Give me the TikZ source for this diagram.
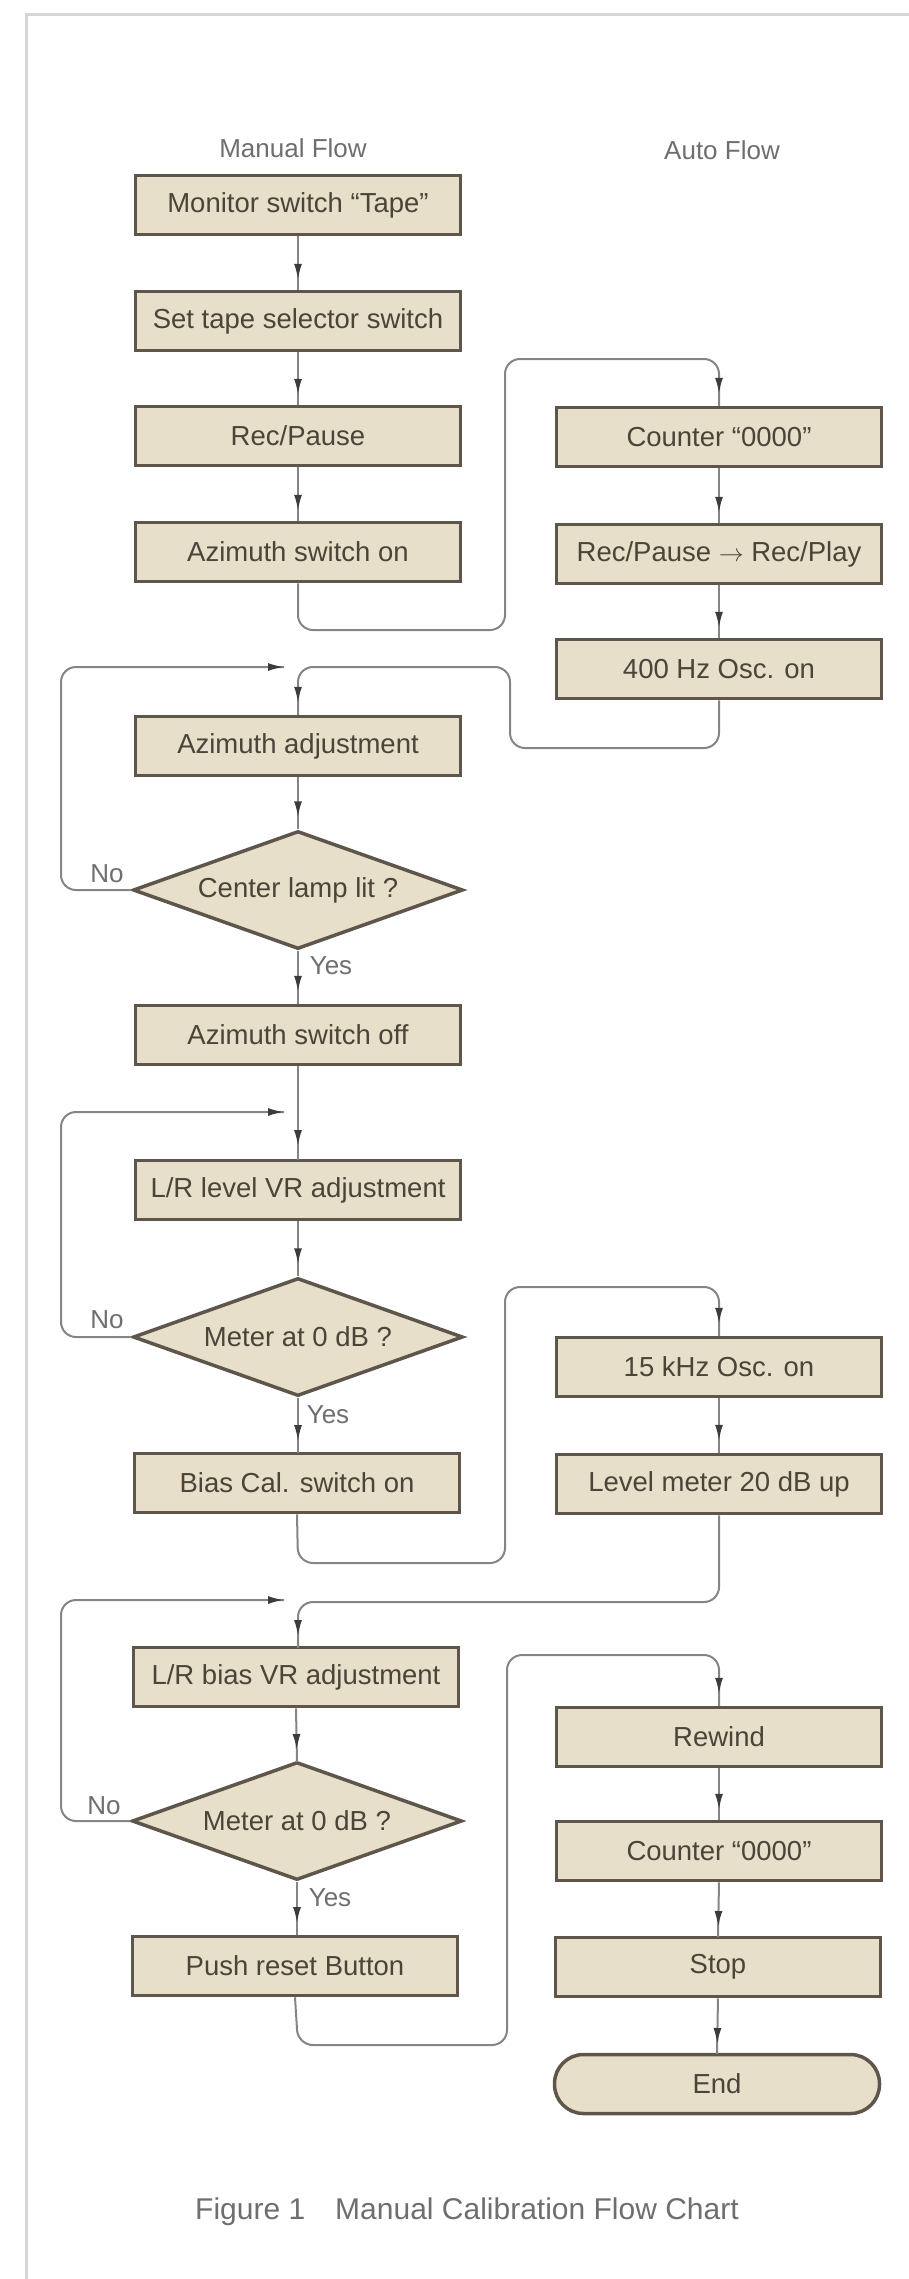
\documentclass[tikz,border=0pt]{standalone}
\usepackage{fontspec}
\setmainfont{Liberation Sans}
\usetikzlibrary{shapes.geometric,arrows.meta,decorations.markings}
\definecolor{boxfill}{HTML}{E8DFCA}
\definecolor{boxline}{HTML}{5E564B}
\definecolor{boxtext}{HTML}{4A4439}
\definecolor{wire}{HTML}{858585}
\definecolor{tipcol}{HTML}{3C3C3C}
\definecolor{labelgray}{HTML}{6E6E6E}
\definecolor{framecol}{HTML}{D6D6D6}
\tikzset{
  procbox/.style={draw=boxline, line width=3.5pt, fill=boxfill, text=boxtext,
    minimum width=325pt, minimum height=59pt, inner sep=0pt,
    font=\fontsize{27.5}{30}\selectfont},
  decbox/.style={diamond, draw=boxline, line width=3.5pt, fill=boxfill, text=boxtext,
    aspect=2.8, minimum width=330pt, minimum height=118pt, inner sep=0pt,
    font=\fontsize{27.5}{30}\selectfont},
  endbox/.style={procbox, rounded corners=29pt},
  wireline/.style={draw=wire, line width=2pt, rounded corners=15pt},
  tipat/.style={postaction={decorate, decoration={markings,
    mark=at position #1 with {\arrow[tipcol]{Latex[length=16pt,width=8pt]}}}}},
  lbl/.style={text=labelgray, font=\fontsize{26}{28}\selectfont, inner sep=0pt},
}
\begin{document}
\begin{tikzpicture}[x=1pt,y=-1pt]
\useasboundingbox (0,0) rectangle (909,2279);
\draw[framecol, line width=3pt] (909,14) -- (26,14) -- (26,2279);

% headings
\node[lbl] (hman) at (293,148) {Manual Flow};
\node[lbl] (hauto) at (722,150) {Auto Flow};

% manual column
\node[procbox] (monitor)  at (298,205)  {Monitor switch “Tape”};
\node[procbox] (settape)  at (298,321)  {Set tape selector switch};
\node[procbox] (recpause) at (298,436)  {Rec/Pause};
\node[procbox] (azon)     at (298,552)  {Azimuth switch on};
\node[procbox] (azadj)    at (298,746)  {Azimuth adjustment};
\node[decbox]  (dec1)     at (298,890)  {Center lamp lit ?};
\node[procbox] (azoff)    at (298,1035) {Azimuth switch off};
\node[procbox] (lrlevel)  at (298,1190) {L/R level VR adjustment};
\node[decbox]  (dec2)     at (298,1337) {Meter at 0 dB ?};
\node[procbox] (biascal)  at (297,1483) {Bias Cal. switch on};
\node[procbox] (lrbias)   at (296,1677) {L/R bias VR adjustment};
\node[decbox]  (dec3)     at (297,1821) {Meter at 0 dB ?};
\node[procbox] (pushreset) at (295,1966) {Push reset Button};

% auto column
\node[procbox] (counter1) at (719,437)  {Counter “0000”};
\node[procbox] (recplay)  at (719,554)  {Rec/Pause $\rightarrow$ Rec/Play};
\node[procbox] (osc400)   at (719,669)  {400 Hz Osc. on};
\node[procbox] (osc15k)   at (719,1367) {15 kHz Osc. on};
\node[procbox] (levelm)   at (719,1484) {Level meter 20 dB up};
\node[procbox] (rewind)   at (719,1737) {Rewind};
\node[procbox] (counter2) at (719,1851) {Counter “0000”};
\node[procbox] (stopbox)  at (718,1967) {Stop};
\node[endbox]  (endbox)   at (717,2084) {End};

% straight connectors
\draw[wireline, tipat=-10pt] (monitor) -- (settape);
\draw[wireline, tipat=-10pt] (settape) -- (recpause);
\draw[wireline, tipat=-10pt] (recpause) -- (azon);
\draw[wireline, tipat=-12pt] (azadj) -- (dec1);
\draw[wireline, tipat=-12pt] (dec1.south) -- (azoff.north);
\draw[wireline, tipat=-14pt] (azoff.south) -- (298,1160);
\draw[wireline, tipat=-12pt] (lrlevel) -- (dec2);
\draw[wireline, tipat=-12pt] (dec2.south) -- (298,1453);
\draw[wireline, tipat=-12pt] (lrbias.south) -- (297,1762);
\draw[wireline, tipat=-12pt] (dec3.south) -- (297,1935);
\draw[wireline, tipat=-10pt] (counter1) -- (recplay);
\draw[wireline, tipat=-10pt] (recplay) -- (osc400);
\draw[wireline, tipat=-12pt] (osc15k) -- (levelm);
\draw[wireline, tipat=-10pt] (rewind) -- (counter2);
\draw[wireline, tipat=-10pt] (counter2.south) -- (718,1937);
\draw[wireline, tipat=-10pt] (stopbox.south) -- (717,2054);

% cross-over connectors
\draw[wireline, tipat=-12pt] (azon.south) -- (298,630) -- (505,630) -- (505,359) -- (719,359) -- (counter1.north);
\draw[wireline, tipat=-12pt] (osc400.south) -- (719,748) -- (510,748) -- (510,667) -- (298,667) -- (azadj.north);
\draw[wireline, tipat=-12pt] (biascal.south) -- (298,1563) -- (505,1563) -- (505,1287) -- (719,1287) -- (osc15k.north);
\draw[wireline, tipat=-12pt] (levelm.south) -- (719,1602) -- (298,1602) -- (298,1648);
\draw[wireline, tipat=-12pt] (pushreset.south) -- (298,2045) -- (507,2045) -- (507,1655) -- (719,1655) -- (rewind.north);

% loop-back connectors
\coordinate (loop1end) at (284,667);
\coordinate (loop2end) at (284,1112);
\coordinate (loop3end) at (284,1600);
\draw[wireline, tipat=1] (dec1.west) -- (61,890) -- (61,667) -- (loop1end);
\draw[wireline, tipat=1] (dec2.west) -- (61,1337) -- (61,1112) -- (loop2end);
\draw[wireline, tipat=1] (dec3.west) -- (61,1821) -- (61,1600) -- (loop3end);

% labels
\node[lbl] (no1)  at (107,874)  {No};
\node[lbl] (yes1) at (331,966)  {Yes};
\node[lbl] (no2)  at (107,1320) {No};
\node[lbl] (yes2) at (328,1415) {Yes};
\node[lbl] (no3)  at (104,1806) {No};
\node[lbl] (yes3) at (330,1898) {Yes};

% caption
\node[text=labelgray, font=\fontsize{30}{32}\selectfont, inner sep=0pt] (caption) at (467,2212)
  {Figure 1\hspace{30pt}Manual Calibration Flow Chart};
\end{tikzpicture}
\end{document}
